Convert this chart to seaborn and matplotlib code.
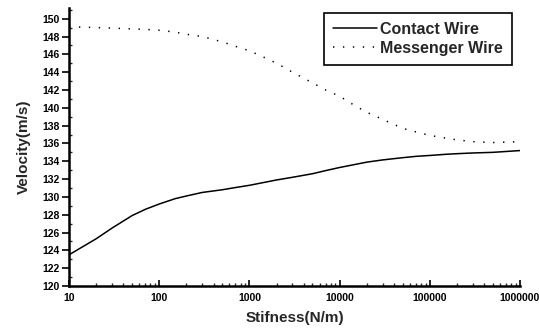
import numpy as np
import pandas as pd
import matplotlib
matplotlib.use("Agg")
import matplotlib.pyplot as plt
import seaborn as sns
from matplotlib.ticker import FixedLocator, FuncFormatter, LogLocator, MultipleLocator

stiffness = [10, 20, 30, 50, 70, 100, 150, 200, 300, 500, 700, 1000, 1500, 2000, 3000,
             5000, 7000, 10000, 15000, 20000, 30000, 50000, 70000, 100000, 150000,
             200000, 300000, 500000, 1000000]
contact = [123.5, 125.3, 126.5, 127.9, 128.6, 129.2, 129.8, 130.1, 130.5, 130.8, 131.05,
           131.3, 131.65, 131.9, 132.2, 132.6, 132.95, 133.3, 133.65, 133.9, 134.15,
           134.4, 134.55, 134.65, 134.78, 134.85, 134.93, 135.0, 135.2]
messenger = [149.1, 149.0, 148.95, 148.85, 148.8, 148.7, 148.5, 148.25, 148.0, 147.4,
             146.9, 146.4, 145.6, 145.0, 144.0, 142.8, 142.0, 141.3, 140.2, 139.5,
             138.7, 137.7, 137.3, 136.9, 136.6, 136.4, 136.2, 136.1, 136.2]
series_names = ["Contact Wire", "Messenger Wire"]
x_ticks = [10, 100, 1000, 10000, 100000, 1000000]
y_ticks = list(range(120, 151, 2))

df = pd.concat([
    pd.DataFrame({"Stiffness": stiffness, "Velocity": contact, "Series": series_names[0]}),
    pd.DataFrame({"Stiffness": stiffness, "Velocity": messenger, "Series": series_names[1]}),
])

sns.set_style("ticks")
plt.rcParams["font.family"] = ["Liberation Sans", "DejaVu Sans"]
plt.rcParams["font.weight"] = "bold"

fig = plt.figure(figsize=(5.39, 3.29), dpi=100)
ax = fig.add_axes([69/539, 1-286/329, (520-69)/539, (286-8)/329])

sns.lineplot(data=df, x="Stiffness", y="Velocity", hue="Series", style="Series",
             palette={series_names[0]: "black", series_names[1]: "black"},
             dashes={series_names[0]: "", series_names[1]: (0.9, 5.6)},
             linewidth=1.1, ax=ax)

ax.set_xscale("log")
ax.set_xlim(10, 1000000)
ax.set_ylim(120, 151.2)
ax.xaxis.set_major_locator(FixedLocator(x_ticks))
ax.xaxis.set_major_formatter(FuncFormatter(lambda v, p: f"{int(round(v))}"))
ax.xaxis.set_minor_locator(LogLocator(base=10, subs=np.arange(2, 10)))
ax.yaxis.set_major_locator(FixedLocator(y_ticks))
ax.yaxis.set_minor_locator(MultipleLocator(1))

for s in ["top", "right"]:
    ax.spines[s].set_visible(False)
for s in ["left", "bottom"]:
    ax.spines[s].set_linewidth(1.8)
    ax.spines[s].set_color("black")

ax.tick_params(axis="y", which="major", direction="out", length=5, width=1.2,
               labelsize=7.5, pad=2, colors="black")
ax.tick_params(axis="y", which="minor", direction="in", length=2, width=1)
ax.tick_params(axis="x", which="major", direction="in", length=4, width=1.2,
               labelsize=7.5, pad=5, colors="black")
ax.tick_params(axis="x", which="minor", direction="in", length=2.5, width=1)
for lbl in ax.get_xticklabels() + ax.get_yticklabels():
    lbl.set_fontweight("bold")

ax.set_xlabel("Stifness(N/m)", fontsize=11, fontweight="bold", labelpad=6)
ax.set_ylabel("Velocity(m/s)", fontsize=11, fontweight="bold", labelpad=8)

handles, labels = ax.get_legend_handles_labels()
leg = ax.legend(handles=handles, labels=labels, loc="upper right",
                bbox_to_anchor=(512/539, 1-13/329), bbox_transform=fig.transFigure,
                frameon=True, fancybox=False, edgecolor="black", framealpha=1,
                prop={"size": 11.5, "weight": "bold"}, handlelength=2.8,
                borderpad=0.55, labelspacing=0.25, handletextpad=0.2,
                borderaxespad=0)
leg.get_frame().set_linewidth(1.2)

fig.savefig("out.png", dpi=100)
